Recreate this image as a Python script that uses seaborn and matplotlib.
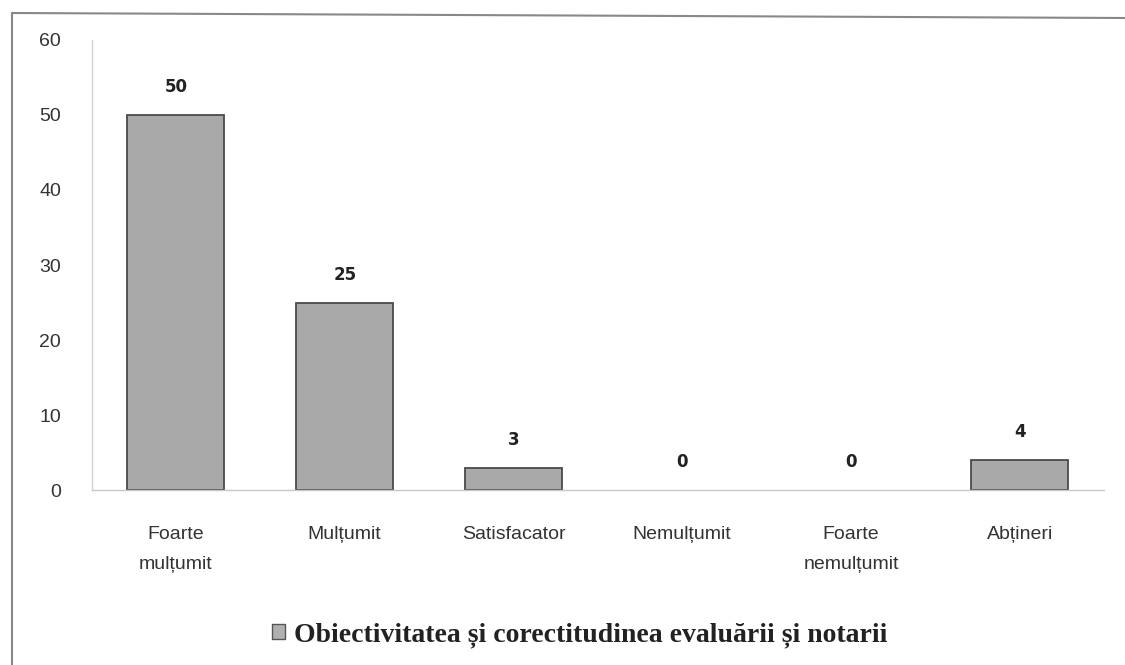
import matplotlib
matplotlib.use("Agg")
import matplotlib.pyplot as plt
import seaborn as sns
import pandas as pd
from matplotlib.lines import Line2D
from matplotlib.patches import Patch

categories = ["Foarte\nmulțumit", "Mulțumit", "Satisfacator", "Nemulțumit", "Foarte\nnemulțumit", "Abțineri"]
values = [50, 25, 3, 0, 0, 4]
series_name = "Obiectivitatea și corectitudinea evaluării și notarii"
y_ticks = [0, 10, 20, 30, 40, 50, 60]

df = pd.DataFrame({"cat": categories, "val": values})

sns.set_style("white")
plt.rcParams['font.family'] = ['Liberation Sans', 'DejaVu Sans']

fig = plt.figure(figsize=(11.25, 6.65), dpi=100)
ax = fig.add_axes([0.0814, 0.263, 0.9, 0.677])

sns.barplot(data=df, x="cat", y="val", color="#a9a9a9", width=0.575,
            edgecolor="#4a4a4a", linewidth=1.3, saturation=1, ax=ax)

for p in ax.patches:
    if p.get_height() == 0:
        p.set_edgecolor("none")

for i, v in enumerate(values):
    ax.text(i, v + 2.5, str(v), ha="center", va="bottom", fontsize=12,
            fontweight="bold", color="#222222", family="DejaVu Sans")

ax.set_xlim(-0.5, 5.5)
ax.set_ylim(0, 60)
ax.set_yticks(y_ticks)
ax.set_yticklabels([str(t) for t in y_ticks], fontsize=14, color="#333333")
ax.tick_params(axis="x", labelsize=14, colors="#333333", length=0, pad=26)
ax.tick_params(axis="y", length=0, pad=22)
for lbl in ax.get_xticklabels():
    lbl.set_linespacing(2.0)
ax.set_xlabel("")
ax.set_ylabel("")

for s in ["top", "right"]:
    ax.spines[s].set_visible(False)
ax.spines["left"].set_color("#d0d0d0")
ax.spines["bottom"].set_color("#c8c8c8")
ax.spines["left"].set_linewidth(1.0)
ax.spines["bottom"].set_linewidth(1.0)

handle = Patch(facecolor="#b0b0b0", edgecolor="#555555", linewidth=1)
fig.legend([handle], [series_name], loc="center", bbox_to_anchor=(0.515, 0.045),
           frameon=False, handlelength=0.5, handleheight=0.5, handletextpad=0.3,
           prop={"family": "Liberation Serif", "size": 20, "weight": "bold"},
           labelcolor="#222222")

fig.add_artist(Line2D([12/1125, 12/1125], [0, 1 - 13/665], transform=fig.transFigure,
                      color="#888888", linewidth=1.5))
fig.add_artist(Line2D([12/1125, 1], [1 - 13/665, 1 - 18/665], transform=fig.transFigure,
                      color="#888888", linewidth=1.5))

fig.savefig("out.png", dpi=100)
